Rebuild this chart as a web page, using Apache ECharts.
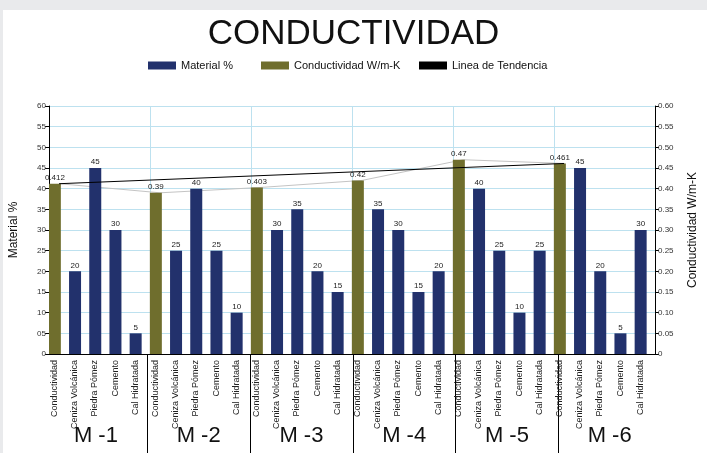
<!DOCTYPE html>
<html>
<head>
<meta charset="utf-8">
<script src="https://cdn.jsdelivr.net/npm/echarts@6/dist/echarts.min.js"></script>
<style>
  html, body { margin: 0; padding: 0; background: #e9eaec; }
  #chart { width: 707px; height: 453px; }
</style>
</head>
<body>
<div id="chart"></div>
<script>
// grupos y materiales
var groups = ["M -1", "M -2", "M -3", "M -4", "M -5", "M -6"];
var materialNames = ["Ceniza Volcánica", "Piedra Pómez", "Cemento", "Cal Hidratada"];

// valores
var conductividad = [0.412, 0.39, 0.403, 0.42, 0.47, 0.461];
var ceniza = [20, 25, 30, 35, 40, 45];
var piedra = [45, 40, 35, 30, 25, 20];
var cemento = [30, 25, 20, 15, 10, 5];
var cal = [5, 10, 15, 20, 25, 30];
// linea de tendencia (inicio M-1, fin M-6)
var trendStart = 0.412;
var trendEnd = 0.461;

var leftTicks = ["0", "05", "10", "15", "20", "25", "30", "35", "40", "45", "50", "55", "60"];

var navy = "#22316c";
var olive = "#6f6e2d";
var grid = "#bde1ef";
var font = "Liberation Sans";

// armar categorias: 5 por grupo
var categories = [];
var matData = [];
var condData = [];
var trendData = [];
groups.forEach(function (g, gi) {
  var vals = [ceniza[gi], piedra[gi], cemento[gi], cal[gi]];
  categories.push(g + "|Conductividad");
  condData.push(conductividad[gi]);
  matData.push("-");
  trendData.push(gi === 0 ? trendStart : gi === groups.length - 1 ? trendEnd : "-");
  materialNames.forEach(function (m, mi) {
    categories.push(g + "|" + m);
    matData.push(vals[mi]);
    condData.push("-");
    trendData.push("-");
  });
});
var spacer = categories.map(function () { return "-"; });

var chart = echarts.init(document.getElementById("chart"));

var option = {
  backgroundColor: "#e9eaec",
  animation: false,
  textStyle: { fontFamily: font },
  graphic: [
    {
      type: "rect",
      z: -10,
      shape: { x: 3, y: 10, width: 704, height: 443 },
      style: { fill: "#ffffff" },
    },
  ],
  title: {
    text: "CONDUCTIVIDAD",
    left: "center",
    top: 12,
    textStyle: { fontSize: 35, fontWeight: "normal", color: "#111", fontFamily: font },
  },
  legend: [
    { left: 148, top: 60, data: ["Material %"] },
    { left: 261, top: 60, data: ["Conductividad W/m-K"] },
    { left: 419, top: 60, data: ["Linea de Tendencia"] },
  ].map(function (l) {
    l.icon = "rect";
    l.itemWidth = 28;
    l.itemHeight = 8;
    l.padding = 0;
    l.selectedMode = false;
    l.textStyle = { fontSize: 11, color: "#111", fontFamily: font };
    return l;
  }),
  grid: [
    { left: 44.5, right: 46, top: 106, height: 248 },
    { left: 44.5, right: 46, top: 354, bottom: 0 },
  ],
  xAxis: [
    {
      type: "category",
      gridIndex: 0,
      data: categories,
      axisLine: { lineStyle: { color: "#000", width: 1 } },
      axisTick: { show: false },
      axisLabel: {
        rotate: 90,
        interval: 0,
        margin: 6,
        fontSize: 9,
        lineHeight: 9,
        color: "#222",
        // linea vacia para correr el texto hacia la barra
        formatter: function (v) { return v.split("|")[1] + "\n"; },
      },
      splitLine: {
        show: true,
        interval: function (i) { return i % 5 === 0; },
        lineStyle: { color: grid, width: 1 },
      },
    },
    {
      type: "category",
      gridIndex: 1,
      position: "top",
      data: groups,
      axisLine: { show: false },
      axisTick: { show: false },
      axisLabel: { inside: true, margin: 71, fontSize: 22, color: "#111", fontFamily: font },
      splitLine: {
        show: true,
        showMinLine: false,
        showMaxLine: false,
        lineStyle: { color: "#000", width: 1 },
      },
    },
  ],
  yAxis: [
    {
      type: "value",
      gridIndex: 0,
      min: 0,
      max: 60,
      interval: 5,
      name: "Material %",
      nameLocation: "middle",
      nameGap: 29,
      nameTextStyle: { fontSize: 12, color: "#111" },
      axisLine: { show: true, lineStyle: { color: "#000" } },
      axisTick: { show: true, length: 4, lineStyle: { color: "#000" } },
      axisLabel: {
        fontSize: 8,
        color: "#333",
        margin: 3,
        formatter: function (v) { return leftTicks[Math.round(v / 5)]; },
      },
      splitLine: { lineStyle: { color: grid, width: 1 } },
    },
    {
      type: "value",
      gridIndex: 0,
      min: 0,
      max: 0.6,
      interval: 0.05,
      position: "right",
      name: "Conductividad W/m-K",
      nameLocation: "middle",
      nameGap: 32,
      nameRotate: 90,
      nameTextStyle: { fontSize: 12, color: "#111" },
      axisLine: { show: true, lineStyle: { color: "#000" } },
      axisTick: { show: true, length: 4, lineStyle: { color: "#000" } },
      axisLabel: {
        fontSize: 8,
        color: "#333",
        margin: 3,
        formatter: function (v) { return v === 0 ? "0" : v.toFixed(2); },
      },
      splitLine: { show: false },
    },
    { type: "value", gridIndex: 1, show: false },
  ],
  series: [
    {
      name: "Conductividad W/m-K",
      type: "bar",
      stack: "col",
      xAxisIndex: 0,
      yAxisIndex: 1,
      barWidth: 12,
      barGap: "0%",
      itemStyle: { color: olive },
      label: { show: true, position: "top", fontSize: 8, color: "#222", distance: 2 },
      data: condData,
    },
    {
      name: "Material %",
      type: "bar",
      stack: "col",
      xAxisIndex: 0,
      yAxisIndex: 0,
      barWidth: 12,
      barGap: "0%",
      itemStyle: { color: navy },
      label: { show: true, position: "top", fontSize: 8, color: "#222", distance: 2 },
      data: matData,
    },
    {
      name: "spacer",
      type: "bar",
      xAxisIndex: 0,
      yAxisIndex: 0,
      barWidth: 8.5,
      barGap: "0%",
      data: spacer,
    },
    {
      name: "union",
      type: "line",
      xAxisIndex: 0,
      yAxisIndex: 1,
      z: 1,
      connectNulls: true,
      showSymbol: false,
      symbol: "none",
      lineStyle: { color: "#c4c4c4", width: 1 },
      data: condData,
    },
    {
      name: "Linea de Tendencia",
      type: "line",
      xAxisIndex: 0,
      yAxisIndex: 1,
      z: 5,
      connectNulls: true,
      showSymbol: false,
      symbol: "none",
      itemStyle: { color: "#000" },
      lineStyle: { color: "#000", width: 1 },
      data: trendData,
    },
  ],
};

chart.setOption(option);
</script>
</body>
</html>
